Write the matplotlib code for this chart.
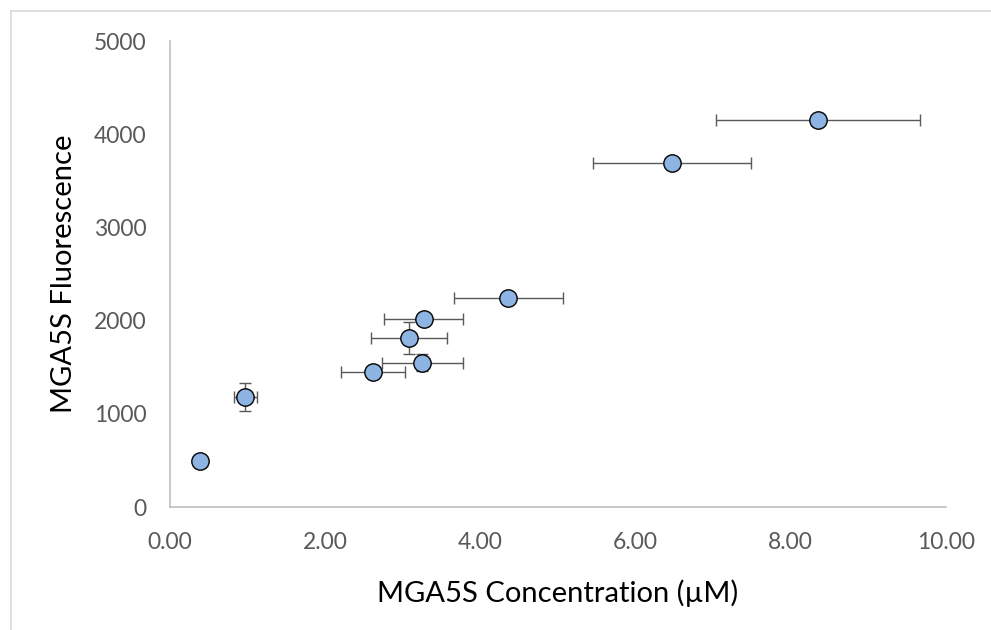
import matplotlib.pyplot as plt
from matplotlib.lines import Line2D

# values
conc = [0.39, 0.97, 2.62, 3.25, 3.08, 3.27, 4.36, 6.47, 8.35]
conc_err = [0.0, 0.15, 0.41, 0.52, 0.49, 0.51, 0.70, 1.02, 1.32]
fluor = [490, 1180, 1450, 1550, 1810, 2020, 2240, 3690, 4150]
fluor_err = [0, 150, 0, 90, 170, 0, 0, 0, 0]

x_ticks = [0, 2, 4, 6, 8, 10]
y_ticks = [0, 1000, 2000, 3000, 4000, 5000]

plt.rcParams['font.family'] = ['Lato', 'DejaVu Sans']

fig = plt.figure(figsize=(9.91, 6.30), dpi=100)
ax = fig.add_axes([170 / 991, 1 - 507 / 630, 776 / 991, 466 / 630])

ax.errorbar(conc, fluor, xerr=conc_err, yerr=fluor_err, fmt='o',
            color='#595959', ecolor='#595959', elinewidth=1.0, capsize=4,
            capthick=1.0, markersize=12.5, markerfacecolor='#8db4e2',
            markeredgecolor='black', markeredgewidth=1.0, zorder=3)

ax.set_xlim(0, 10)
ax.set_ylim(0, 5000)
ax.set_xticks(x_ticks)
ax.set_xticklabels([f"{v:.2f}" for v in x_ticks])
ax.set_yticks(y_ticks)
ax.tick_params(length=0, labelsize=16.5, colors='#595959')
ax.tick_params(axis='x', pad=18)
ax.tick_params(axis='y', pad=17)

for side in ['top', 'right']:
    ax.spines[side].set_visible(False)
for side in ['left', 'bottom']:
    ax.spines[side].set_color('#bfbfbf')
    ax.spines[side].set_linewidth(1.2)

ax.set_xlabel('MGA5S Concentration (µM)', fontsize=21, labelpad=19)
ax.set_ylabel('MGA5S Fluorescence', fontsize=21, labelpad=12)

# outer chart border (top and left visible)
fig.add_artist(Line2D([11 / 991, 11 / 991], [0, 1 - 11 / 630],
                      transform=fig.transFigure, color='#d9d9d9', lw=1.2))
fig.add_artist(Line2D([11 / 991, 1], [1 - 11 / 630, 1 - 11 / 630],
                      transform=fig.transFigure, color='#d9d9d9', lw=1.2))

fig.savefig('out.png', dpi=100)
